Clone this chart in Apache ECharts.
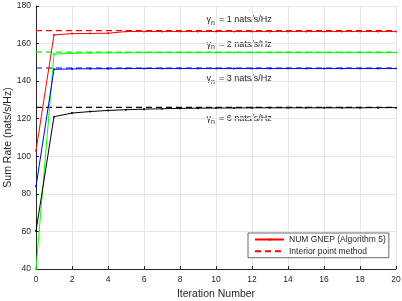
<!DOCTYPE html>
<html>
<head>
<meta charset="utf-8">
<script src="https://cdn.jsdelivr.net/npm/echarts@6/dist/echarts.min.js"></script>
<style>
html,body{margin:0;padding:0;background:#fff;}
#c{width:402px;height:301px;}
</style>
</head>
<body>
<div id="c"></div>
<script>
// ---- data ----
const iterations = [0,1,2,3,4,5,6,7,8,9,10,11,12,13,14,15,16,17,18,19,20];
const gamma1 = [103, 164.6, 165.3, 165.4, 165.5, 166.4, 166.4, 166.4, 166.4, 166.4, 166.4, 166.4, 166.4, 166.4, 166.4, 166.4, 166.4, 166.4, 166.4, 166.4, 166.4];
const gamma2 = [40, 154.4, 154.8, 155.0, 155.1, 155.1, 155.2, 155.2, 155.2, 155.2, 155.2, 155.2, 155.2, 155.2, 155.2, 155.2, 155.2, 155.2, 155.2, 155.2, 155.2];
const gamma3 = [84, 146.3, 146.5, 146.6, 146.6, 146.7, 146.7, 146.7, 146.7, 146.7, 146.7, 146.7, 146.7, 146.7, 146.7, 146.7, 146.7, 146.7, 146.7, 146.7, 146.7];
const gamma6 = [60.2, 121.1, 123.0, 123.8, 124.4, 124.8, 125.1, 125.3, 125.5, 125.6, 125.7, 125.7, 125.8, 125.8, 125.8, 125.8, 125.8, 125.8, 125.8, 125.9, 125.9];
const interiorPoint = [166.9, 155.4, 147.0, 126.0]; // gamma = 1, 2, 3, 6
const iterRange = [0, 20];
const gammaValues = ['1', '2', '3', '6'];
const xTicks = [0,2,4,6,8,10,12,14,16,18,20];
const yTicks = [40,60,80,100,120,140,160,180];
const legendNames = ['NUM GNEP (Algorithm 5)', 'Interior point method'];

// ---- styles ----
const colors = ['#ff0000', '#00ff00', '#0000ff', '#000000'];
const FONT = "'Liberation Sans', Arial, Helvetica, sans-serif";
const TXT = '#262626';

const solidSeries = [gamma1, gamma2, gamma3, gamma6];
const series = [];
interiorPoint.forEach((v, i) => {
  series.push({
    name: i === 0 ? legendNames[1] : 'ip' + gammaValues[i],
    type: 'line',
    data: iterRange.map(x => [x, v]),
    symbol: 'none',
    lineStyle: { color: colors[i], width: 1.2, type: [6, 4] },
    itemStyle: { color: colors[i] },
    silent: true, animation: false, z: 2
  });
});
solidSeries.forEach((arr, i) => {
  series.push({
    name: i === 0 ? legendNames[0] : 'num' + gammaValues[i],
    type: 'line',
    data: iterations.map((x, k) => [x, arr[k]]),
    symbol: 'circle', symbolSize: 2, showAllSymbol: true,
    lineStyle: { color: colors[i], width: 1 },
    itemStyle: { color: colors[i] },
    clip: true,
    silent: true, animation: false, z: 3
  });
});

// annotation positions (pixel layout)
const labelY = [20, 44.5, 79, 119];
const graphics = gammaValues.map((g, i) => ({
  type: 'group', x: 206.5, y: labelY[i],
  children: [
    { type: 'text', x: 0, y: 0, style: { text: 'γ', fill: TXT, font: '9px ' + FONT, verticalAlign: 'middle', align: 'left' } },
    { type: 'text', x: 4.6, y: 3, style: { text: 'n', fill: TXT, font: '7px ' + FONT, verticalAlign: 'middle', align: 'left' } },
    { type: 'text', x: 12.5, y: 0, style: { text: '= ' + g + ' nats/s/Hz', fill: TXT, font: '9px ' + FONT, verticalAlign: 'middle', align: 'left' } }
  ]
}));

const chart = echarts.init(document.getElementById('c'), null, { renderer: 'canvas' });
chart.setOption({
  animation: false,
  backgroundColor: '#fff',
  grid: { left: 36, right: 6, top: 6, bottom: 32, containLabel: false, outerBoundsMode: 'none' },
  xAxis: {
    type: 'value', min: xTicks[0], max: xTicks[xTicks.length - 1], interval: 2,
    name: 'Iteration Number', nameLocation: 'middle', nameGap: 20, nameMoveOverlap: false,
    nameTextStyle: { color: TXT, fontSize: 10.5, fontFamily: FONT },
    axisLine: { show: true, lineStyle: { color: TXT, width: 1 } },
    axisTick: { show: true, inside: true, length: 3, lineStyle: { color: TXT } },
    axisLabel: { color: TXT, fontSize: 8.5, fontFamily: FONT, margin: 6 },
    splitLine: { show: true, lineStyle: { color: '#e6e6e6', width: 1 } }
  },
  yAxis: {
    type: 'value', min: yTicks[0], max: yTicks[yTicks.length - 1], interval: 20,
    name: 'Sum Rate (nats/s/Hz)', nameLocation: 'middle', nameGap: 22, nameMoveOverlap: false,
    nameTextStyle: { color: TXT, fontSize: 10.5, fontFamily: FONT },
    axisLine: { show: true, lineStyle: { color: TXT, width: 1 } },
    axisTick: { show: true, inside: true, length: 3, lineStyle: { color: TXT } },
    axisLabel: { color: TXT, fontSize: 8.5, fontFamily: FONT, margin: 5 },
    splitLine: { show: true, lineStyle: { color: '#e6e6e6', width: 1 } }
  },
  legend: {
    orient: 'vertical', left: 248, top: 233,
    data: [legendNames[0], { name: legendNames[1], itemStyle: { opacity: 0 } }],
    backgroundColor: '#fff', borderColor: '#444', borderWidth: 0.8,
    padding: [2, 3, 2, 6], itemGap: 2.7, itemWidth: 29, itemHeight: 3,
    textStyle: { color: TXT, fontSize: 8.5, fontFamily: FONT },
    selectedMode: false
  },
  graphic: graphics,
  series: series
});
</script>
</body>
</html>
